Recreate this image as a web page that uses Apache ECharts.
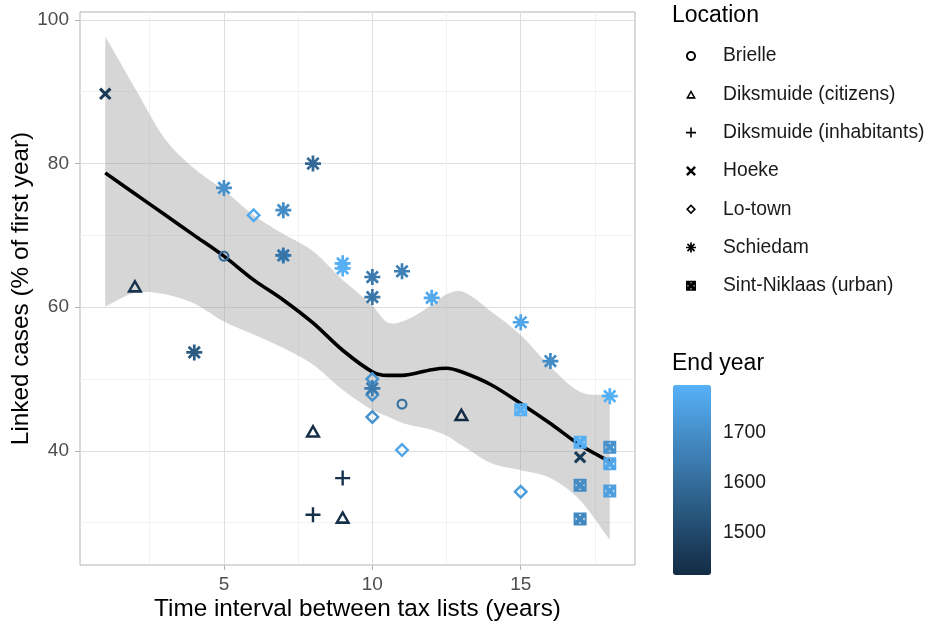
<!DOCTYPE html>
<html>
<head>
<meta charset="utf-8">
<script src="https://cdn.jsdelivr.net/npm/echarts@6/dist/echarts.min.js"></script>
<style>
  html, body { margin: 0; padding: 0; background: #ffffff; }
  #chart { width: 934px; height: 627px; }
</style>
</head>
<body>
<div id="chart"></div>
<script>
// ---- Data: linked cases vs. interval between tax lists, per location ----
const locationNames = ['Brielle', 'Diksmuide (citizens)', 'Diksmuide (inhabitants)', 'Hoeke', 'Lo-town', 'Schiedam', 'Sint-Niklaas (urban)'];

const brielleX = [5, 11];
const brielleY = [67.1, 46.5];
const brielleYear = [1600, 1610];

const dikCitizensX = [2, 8, 9, 13];
const dikCitizensY = [63.0, 42.8, 30.8, 45.1];
const dikCitizensYear = [1440, 1425, 1430, 1415];

const dikInhabX = [8, 9];
const dikInhabY = [31.1, 36.2];
const dikInhabYear = [1430, 1440];

const hoekeX = [1, 17];
const hoekeY = [89.7, 39.1];
const hoekeYear = [1455, 1460];

const loTownX = [6, 7, 10, 10, 10, 11, 15];
const loTownY = [72.8, 67.2, 50.0, 47.8, 44.7, 40.1, 34.3];
const loTownYear = [1775, 1785, 1710, 1700, 1705, 1765, 1735];

const schiedamX = [4, 5, 7, 7, 8, 9, 9, 10, 10, 10, 11, 12, 15, 16, 18];
const schiedamY = [53.7, 76.6, 73.5, 67.2, 80.0, 66.1, 65.4, 64.2, 61.4, 48.7, 65.0, 61.3, 57.9, 52.5, 47.6];
const schiedamYear = [1550, 1700, 1690, 1620, 1590, 1790, 1795, 1640, 1630, 1640, 1660, 1770, 1765, 1690, 1790];

const sintNiklaasX = [15, 17, 17, 17, 18, 18, 18];
const sintNiklaasY = [45.7, 41.2, 35.2, 30.5, 40.5, 38.2, 34.4];
const sintNiklaasYear = [1795, 1790, 1690, 1680, 1710, 1765, 1745];

// LOESS fit with its confidence band
const smoothX = [1, 2, 3, 4, 5, 6, 7, 8, 9, 10, 10.5, 11, 12, 12.5, 13, 14, 15, 16, 17, 18];
const smoothFit = [78.7, 75.8, 72.9, 70.0, 67.1, 63.8, 61.0, 57.8, 54.0, 51.0, 50.5, 50.5, 51.3, 51.5, 51.0, 49.2, 46.6, 43.8, 40.8, 38.5];
const smoothUpper = [97.7, 90.5, 83.5, 79.3, 76.3, 72.8, 70.2, 67.8, 63.8, 60.2, 57.9, 58.0, 60.3, 61.8, 62.2, 59.4, 56.1, 51.7, 48.2, 47.8];
const smoothLower = [60.1, 62.0, 61.8, 60.5, 58.0, 56.2, 54.3, 52.0, 48.5, 45.7, 44.8, 43.9, 42.9, 42.1, 40.8, 38.3, 37.3, 36.2, 33.1, 27.6];

// Axis ranges and tick values
const xRange = [0.15, 18.85];
const yRange = [24.1, 101.1];
const xTicks = [5, 10, 15];
const yTicks = [40, 60, 80, 100];
const yearRange = [1415, 1795];
const yearTicks = [1500, 1600, 1700];

// ---- Marker outlines (filled paths; inner contours wound the other way leave holes) ----
function poly(pts) {
  return 'M' + pts.map(p => p[0].toFixed(3) + ' ' + p[1].toFixed(3)).join(' L') + ' Z';
}
function ngon(r, n) {
  const pts = [];
  for (let i = 0; i < n; i++) {
    const a = -Math.PI / 2 + 2 * Math.PI * i / n;
    pts.push([r * Math.cos(a), r * Math.sin(a)]);
  }
  return pts;
}
function ring(ro, ri, n) {
  return poly(ngon(ro, n)) + ' ' + poly(ngon(ri, n).reverse());
}
function bar(angleDeg, L, T) {
  const a = angleDeg * Math.PI / 180;
  const d = [Math.cos(a), Math.sin(a)];
  const nv = [-Math.sin(a), Math.cos(a)];
  const p = (s, t) => [s * L * d[0] + t * T * nv[0], s * L * d[1] + t * T * nv[1]];
  return poly([p(-1, -1), p(1, -1), p(1, 1), p(-1, 1)]);
}
const symCircle = 'path://' + ring(10, 6.2, 40);
const symTriangle = 'path://' + ring(10, 4.6, 3);
const symPlus = 'path://' + bar(0, 10, 1.6) + ' ' + bar(90, 10, 1.6);
const symCross = 'path://' + bar(45, 10, 2.1) + ' ' + bar(135, 10, 2.1);
const symDiamond = 'path://' + ring(10, 5.4, 4);
const symStar = 'path://' + [0, 45, 90, 135].map(a => bar(a, 10, 1.7)).join(' ');
const symSquareX = 'path://' + poly([[-10, -10], [10, -10], [10, 10], [-10, 10]]) + ' ' +
  poly([[-2.2, -6.8], [0, -4.4], [2.2, -6.8]]) + ' ' +
  poly([[6.8, -2.2], [4.4, 0], [6.8, 2.2]]) + ' ' +
  poly([[2.2, 6.8], [0, 4.4], [-2.2, 6.8]]) + ' ' +
  poly([[-6.8, 2.2], [-4.4, 0], [-6.8, -2.2]]);

const groups = [
  { name: locationNames[0], x: brielleX, y: brielleY, year: brielleYear, symbol: symCircle, size: [11, 11] },
  { name: locationNames[1], x: dikCitizensX, y: dikCitizensY, year: dikCitizensYear, symbol: symTriangle, size: [16, 14] },
  { name: locationNames[2], x: dikInhabX, y: dikInhabY, year: dikInhabYear, symbol: symPlus, size: [15, 15] },
  { name: locationNames[3], x: hoekeX, y: hoekeY, year: hoekeYear, symbol: symCross, size: [12.5, 12.5] },
  { name: locationNames[4], x: loTownX, y: loTownY, year: loTownYear, symbol: symDiamond, size: [15, 15] },
  { name: locationNames[5], x: schiedamX, y: schiedamY, year: schiedamYear, symbol: symStar, size: [16, 16] },
  { name: locationNames[6], x: sintNiklaasX, y: sintNiklaasY, year: sintNiklaasYear, symbol: symSquareX, size: [13, 13] }
];

const FONT = 'Liberation Sans, Arial, Helvetica, sans-serif';

const scatterSeries = groups.map(g => ({
  name: g.name,
  type: 'scatter',
  xAxisIndex: 0,
  yAxisIndex: 0,
  symbol: g.symbol,
  symbolSize: g.size,
  itemStyle: { color: '#000000', opacity: 1 },
  z: 5,
  data: g.x.map((x, i) => [x, g.y[i], g.year[i]])
}));

// Smooth curve through a band edge (cubic Hermite in data space), returned in pixels
function edgeCurve(api, xs, ys, steps) {
  const n = xs.length;
  const slope = i => (ys[i + 1] - ys[i]) / (xs[i + 1] - xs[i]);
  const m = xs.map((_, i) => i === 0 ? slope(0) : i === n - 1 ? slope(n - 2) : (slope(i - 1) + slope(i)) / 2);
  const out = [];
  for (let i = 0; i < n - 1; i++) {
    const h = xs[i + 1] - xs[i];
    for (let k = 0; k < steps; k++) {
      const t = k / steps, t2 = t * t, t3 = t2 * t;
      const v = (2 * t3 - 3 * t2 + 1) * ys[i] + (t3 - 2 * t2 + t) * h * m[i] +
                (-2 * t3 + 3 * t2) * ys[i + 1] + (t3 - t2) * h * m[i + 1];
      out.push(api.coord([xs[i] + t * h, v]));
    }
  }
  out.push(api.coord([xs[n - 1], ys[n - 1]]));
  return out;
}

const ribbon = {
  name: 'ci-band',
  type: 'custom',
  xAxisIndex: 0,
  yAxisIndex: 0,
  silent: true,
  clip: true,
  z: 1,
  encode: { x: 0, y: [1, 2] },
  data: smoothX.map((x, i) => [x, smoothLower[i], smoothUpper[i]]),
  renderItem: function (params, api) {
    if (params.dataIndex !== 0) return null;
    const top = edgeCurve(api, smoothX, smoothUpper, 10);
    const bottom = edgeCurve(api, smoothX, smoothLower, 10).reverse();
    return {
      type: 'polygon',
      shape: { points: top.concat(bottom) },
      style: { fill: 'rgba(153,153,153,0.4)' }
    };
  }
};

const fitLine = {
  name: 'fit',
  type: 'line',
  xAxisIndex: 0,
  yAxisIndex: 0,
  smooth: 0.3,
  symbol: 'none',
  silent: true,
  lineStyle: { color: '#000000', width: 3.6 },
  z: 3,
  data: smoothX.map((x, i) => [x, smoothFit[i]])
};

const chart = echarts.init(document.getElementById('chart'), null, { renderer: 'canvas' });

chart.setOption({
  animation: false,
  backgroundColor: '#ffffff',
  textStyle: { fontFamily: FONT },
  grid: [
    { left: 80, right: 299, top: 12, bottom: 62, containLabel: false, outerBoundsMode: 'none', show: true, borderColor: '#b3b3b3', borderWidth: 1, backgroundColor: 'transparent' },
    { left: 673, top: 385, width: 38, height: 190, containLabel: false, outerBoundsMode: 'none', show: false }
  ],
  xAxis: [
    {
      type: 'value', gridIndex: 0,
      min: xRange[0], max: xRange[1], splitNumber: 4, minInterval: 5, maxInterval: 5,
      name: 'Time interval between tax lists (years)', nameLocation: 'middle', nameGap: 32, nameMoveOverlap: false,
      nameTextStyle: { fontSize: 24.3, color: '#000000', fontFamily: FONT },
      axisLine: { show: false },
      axisTick: { show: true, length: 5, lineStyle: { color: '#b3b3b3', width: 1 }, customValues: xTicks },
      axisLabel: { fontSize: 19, color: '#4d4d4d', margin: 10, interval: 0, customValues: xTicks, fontFamily: FONT },
      splitLine: { show: true, lineStyle: { color: '#dedede', width: 1 } },
      minorTick: { show: false, splitNumber: 2 },
      minorSplitLine: { show: true, lineStyle: { color: '#efefef', width: 0.8 } }
    },
    { type: 'value', gridIndex: 1, min: 0, max: 1, show: false }
  ],
  yAxis: [
    {
      type: 'value', gridIndex: 0,
      min: yRange[0], max: yRange[1], splitNumber: 4, minInterval: 20, maxInterval: 20,
      name: 'Linked cases (% of first year)', nameLocation: 'middle', nameGap: 47, nameMoveOverlap: false,
      nameTextStyle: { fontSize: 24.3, color: '#000000', fontFamily: FONT },
      axisLine: { show: false },
      axisTick: { show: true, length: 5, lineStyle: { color: '#b3b3b3', width: 1 }, customValues: yTicks },
      axisLabel: { fontSize: 19, color: '#4d4d4d', margin: 11, interval: 0, customValues: yTicks, fontFamily: FONT },
      splitLine: { show: true, lineStyle: { color: '#dedede', width: 1 } },
      minorTick: { show: false, splitNumber: 2 },
      minorSplitLine: { show: true, lineStyle: { color: '#efefef', width: 0.8 } }
    },
    {
      type: 'value', gridIndex: 1, position: 'right',
      min: yearRange[0], max: yearRange[1], minInterval: 100, maxInterval: 100,
      axisLine: { show: false },
      axisTick: { show: true, inside: true, length: 7, lineStyle: { color: '#ffffff', width: 1 }, customValues: yearTicks },
      axisLabel: { fontSize: 19.3, color: '#1a1a1a', margin: 12, interval: 0, customValues: yearTicks, fontFamily: FONT, formatter: v => String(v) },
      splitLine: { show: false }
    },
    {
      type: 'value', gridIndex: 1, position: 'left',
      min: yearRange[0], max: yearRange[1], minInterval: 100, maxInterval: 100,
      axisLine: { show: false },
      axisTick: { show: true, inside: true, length: 7, lineStyle: { color: '#ffffff', width: 1 }, customValues: yearTicks },
      axisLabel: { show: false },
      splitLine: { show: false }
    }
  ],
  visualMap: {
    type: 'continuous',
    seriesIndex: [0, 1, 2, 3, 4, 5, 6],
    dimension: 2,
    min: yearRange[0], max: yearRange[1],
    calculable: false,
    hoverLink: false,
    orient: 'vertical',
    left: 673, top: 385,
    itemWidth: 38, itemHeight: 190,
    padding: 0,
    inRange: { color: ['#132B43', '#56B1F7'] }
  },
  legend: {
    orient: 'vertical',
    left: 686, top: 46,
    padding: 0,
    itemWidth: 10, itemHeight: 10,
    itemGap: 18.3,
    selectedMode: false,
    textStyle: { fontSize: 19.3, color: '#1a1a1a', fontFamily: FONT, lineHeight: 20, padding: [0, 0, 0, 22] },
    data: groups.map(g => ({ name: g.name, icon: g.symbol, itemStyle: { color: '#000000' } }))
  },
  graphic: [
    { type: 'text', x: 672, y: 15.5, style: { text: 'Location', fontSize: 23, fontFamily: FONT, fill: '#000000', verticalAlign: 'middle' } },
    { type: 'text', x: 672, y: 363.5, style: { text: 'End year', fontSize: 23, fontFamily: FONT, fill: '#000000', verticalAlign: 'middle' } }
  ],
  series: scatterSeries.concat([ribbon, fitLine])
});
</script>
</body>
</html>
